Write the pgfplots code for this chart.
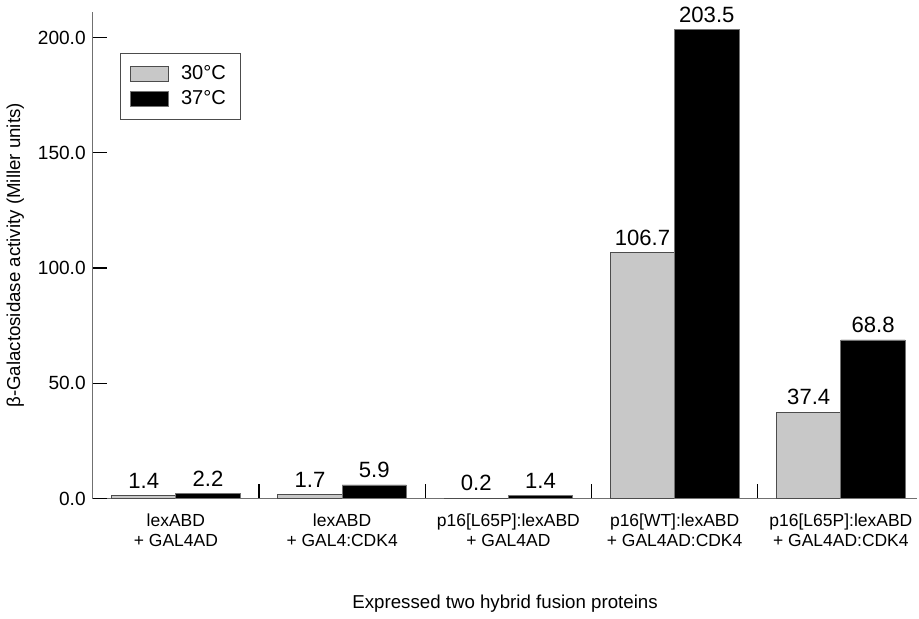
\documentclass[border=0pt]{standalone}
\usepackage{pgfplots}
\pgfplotsset{compat=1.18}
\usepackage{fontspec}
\setmainfont{Liberation Sans}
\definecolor{lightbar}{HTML}{C8C8C8}
\definecolor{axisgray}{HTML}{707070}
\pgfplotsset{frame/.style={
  scale only axis,
  width=410.5pt, height=242pt,
  ymin=0, ymax=210.9,
}}
\begin{document}
\begin{tikzpicture}
\begin{axis}[
  frame,
  xmin=-0.5, xmax=4.46,
  ybar=0pt,
  bar width=0.387,
  axis x line*=bottom,
  axis y line*=left,
  axis line style={-, draw=axisgray, line width=0.6pt},
  tick style={draw=black, line width=0.6pt},
  tick align=inside,
  major tick length=7pt,
  % separators between the groups
  xtick={0.5,1.5,2.5,3.5},
  xticklabels={},
  % group names
  extra x ticks={0,1,2,3,4},
  extra x tick labels={{lexABD\\+ GAL4AD},{lexABD\\+ GAL4:CDK4},{p16[L65P]:lexABD\\+ GAL4AD},{p16[WT]:lexABD\\+ GAL4AD:CDK4},{p16[L65P]:lexABD\\+ GAL4AD:CDK4}},
  extra x tick style={major tick length=0pt, xticklabel style={align=center, font=\fontsize{8.7}{10}\selectfont, yshift=-4pt}},
  ytick={0,50,100,150,200},
  yticklabel style={font=\fontsize{9.5}{10}\selectfont},
  /pgf/number format/.cd, fixed, fixed zerofill, precision=1, assume math mode=true, /pgfplots/.cd,
  ylabel={β-Galactosidase activity (Miller units)},
  ylabel style={font=\fontsize{9.3}{10}\selectfont},
  xlabel={Expressed two hybrid fusion proteins},
  xlabel style={font=\fontsize{9.3}{10}\selectfont, yshift=-17pt},
  nodes near coords,
  nodes near coords style={font=\fontsize{11}{12}\selectfont, /pgf/number format/.cd, fixed, fixed zerofill, precision=1, assume math mode=true},
  legend style={at={(0.033,0.917)}, anchor=north west, draw=black!70, font=\fontsize{10}{12}\selectfont,
    inner xsep=5pt, inner ysep=4pt, legend cell align=left},
  legend image code/.code={\draw[#1] (0pt,-3.8pt) rectangle (18.5pt,3.8pt); \path[draw=none,fill=none] (0pt,0pt) -- (23pt,0pt);},
  clip=false,
]
\addplot[fill=lightbar, draw=black!70, line width=0.4pt] coordinates {(0,1.4) (1,1.7) (2,0.2) (3,106.7) (4,37.4)};
\addplot[fill=black, draw=black!55, line width=0.4pt] coordinates {(0,2.2) (1,5.9) (2,1.4) (3,203.5) (4,68.8)};
\legend{30\textdegree C, 37\textdegree C}
\end{axis}
% y tick marks pointing into the plot (x in pt from the y axis)
\begin{axis}[
  frame,
  xmin=0, xmax=410.5,
  hide axis,
  clip=false,
]
\addplot[xcomb, draw=black, line width=0.6pt, mark=none] coordinates {(7,0) (7,50) (7,100) (7,150) (7,200)};
\end{axis}
\end{tikzpicture}
\end{document}
